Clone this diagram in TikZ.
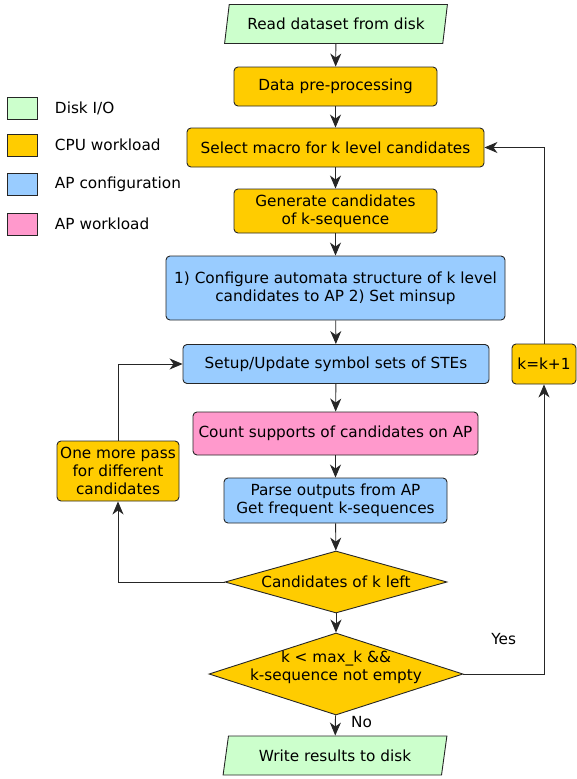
\documentclass[tikz,border=0pt]{standalone}
\usepackage{fontspec}
\setmainfont{DejaVu Sans}
\usetikzlibrary{positioning, shapes.geometric, arrows.meta}

\definecolor{diskgreen}{HTML}{CCFFCC}
\definecolor{cpuorange}{HTML}{FFCC00}
\definecolor{apblue}{HTML}{99CCFF}
\definecolor{appink}{HTML}{FF99CC}

\begin{document}
\begin{tikzpicture}[
    x=1pt, y=-1pt,
    font=\fontsize{15.3}{18}\selectfont,
    box/.style={rectangle, rounded corners=4pt, draw=black!85, line width=0.9pt, align=center, inner sep=0pt, minimum height=39pt},
    cpu/.style={box, fill=cpuorange},
    apconf/.style={box, fill=apblue},
    apwork/.style={box, fill=appink},
    disk/.style={trapezium, trapezium left angle=72, trapezium right angle=108, trapezium stretches=true,
        draw=black!85, line width=0.9pt, fill=diskgreen, inner sep=0pt, minimum height=39pt},
    decision/.style={diamond, draw=black!85, line width=0.9pt, fill=cpuorange, inner sep=0pt, align=center},
    legendbox/.style={rectangle, draw=black!85, line width=0.9pt, minimum width=30pt, minimum height=22pt, inner sep=0pt},
    flow/.style={-{Stealth[length=13pt, width=11pt, inset=4pt]}, line width=0.9pt, draw=black!85}
]
\useasboundingbox (0,0) rectangle (577,779);

% Legend
\node[legendbox, fill=diskgreen] (lgdisk) at (22,108) {};
\node[right=14pt of lgdisk] (lgdisktext) {Disk I/O};
\node[legendbox, fill=cpuorange] (lgcpu) at (22,145) {};
\node[right=14pt of lgcpu] (lgcputext) {CPU workload};
\node[legendbox, fill=apblue] (lgconf) at (22,184.5) {};
\node[right=14pt of lgconf] (lgconftext) {AP configuration};
\node[legendbox, fill=appink] (lgwork) at (22,224) {};
\node[right=14pt of lgwork] (lgworktext) {AP workload};

% Main flow
\node[disk, minimum width=223pt] (read) at (336,24) {Read dataset from disk};
\node[cpu, minimum width=203pt] (prep) at (335.5,86.5) {Data pre-processing};
\node[cpu, minimum width=297pt] (macro) at (335.5,147.5) {Select macro for k level candidates};
\node[cpu, minimum width=203pt, minimum height=44pt] (gen) at (335.5,211) {Generate candidates\\of k-sequence};
\node[apconf, minimum width=339pt, minimum height=64pt] (config) at (335.5,288) {1) Configure automata structure of k level\\candidates to AP 2) Set minsup};
\node[apconf, minimum width=306pt] (setup) at (336,364) {Setup/Update symbol sets of STEs};
\node[apwork, minimum width=285pt, minimum height=43pt] (count) at (335.5,433.5) {Count supports of candidates on AP};
\node[apconf, minimum width=223pt, minimum height=45pt] (parse) at (335.5,500.5) {Parse outputs from AP\\Get frequent k-sequences};
\node[decision, shape aspect=3.58, minimum width=222pt, minimum height=62pt] (left) at (336,582) {Candidates of k left};
\node[decision, shape aspect=3.1, minimum width=254pt, minimum height=82pt,
    label={[align=center, yshift=7pt]center:k < max\_k \&\&\\k-sequence not empty}] (more) at (336,674) {};
\node[disk, minimum width=224pt] (write) at (335,755.5) {Write results to disk};

% Side steps
\node[cpu, minimum width=122pt, minimum height=60pt] (again) at (118,471) {One more pass\\for different\\candidates};
\node[cpu, minimum width=64pt, minimum height=40pt] (inc) at (544,364) {k=k+1};

% Edges
\draw[flow] (read) -- (prep);
\draw[flow] (prep) -- (macro);
\draw[flow] (macro) -- (gen);
\draw[flow] (gen) -- (config);
\draw[flow] (config) -- (setup);
\draw[flow] (setup) -- (count);
\draw[flow] (count) -- (parse);
\draw[flow] (parse) -- (left);
\draw[flow] (left) -- (more);
\draw[flow] (more) -- node[pos=0.33, right=12pt] {No} (write);
\draw[flow] (more.east) -| node[pos=0.25, above=26pt] {Yes} (inc.south);
\draw[flow] (inc.north) |- (macro.east);
\draw[flow] (left.west) -| (again.south);
\draw[flow] (again.north) |- (setup.west);

\end{tikzpicture}
\end{document}
